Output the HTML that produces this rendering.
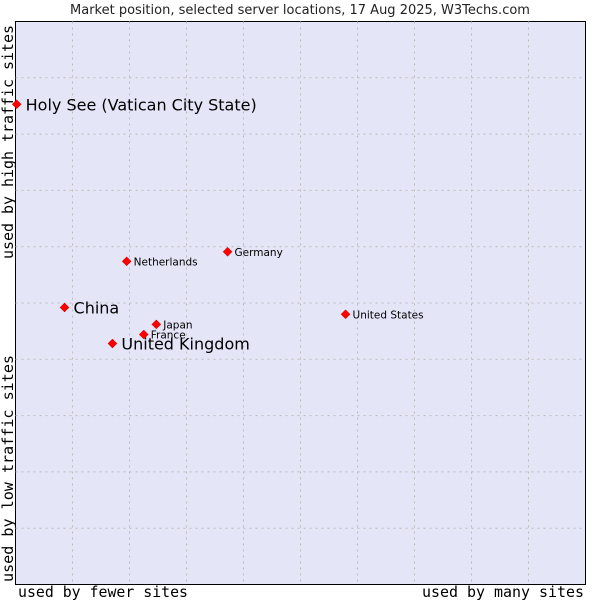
<!DOCTYPE html>
<html><head><meta charset="utf-8"><style>
body{margin:0;background:#fff;width:600px;height:600px;overflow:hidden}
svg{display:block}
</style></head><body>
<svg id="c" width="600" height="600" xmlns="http://www.w3.org/2000/svg">
<text x="300" y="14" text-anchor="middle" font-family="DejaVu Sans, sans-serif" font-size="13" fill="#222">Market position, selected server locations, 17 Aug 2025, W3Techs.com</text>
<rect x="15.5" y="21.5" width="570" height="563" fill="#e4e6f8" stroke="#000" stroke-width="1"/>
<g id="grid"></g>
<text x="18" y="597" font-family="DejaVu Sans Mono, monospace" font-size="15" textLength="170" lengthAdjust="spacingAndGlyphs" fill="#000">used by fewer sites</text>
<text x="422" y="597" font-family="DejaVu Sans Mono, monospace" font-size="15" textLength="162" lengthAdjust="spacingAndGlyphs" fill="#000">used by many sites</text>
<text transform="translate(13,582) rotate(-90)" font-family="DejaVu Sans Mono, monospace" font-size="15" textLength="227" lengthAdjust="spacingAndGlyphs" fill="#000">used by low traffic sites</text>
<text transform="translate(13,259) rotate(-90)" font-family="DejaVu Sans Mono, monospace" font-size="15" textLength="234" lengthAdjust="spacingAndGlyphs" fill="#000">used by high traffic sites</text>
<g id="pts"></g>
</svg>
<script>
const names=["Holy See (Vatican City State)","China","United Kingdom","France","Japan","Netherlands","Germany","United States"];
const xs=[0.2,8.6,17.0,22.5,24.7,19.5,37.2,57.9];
const ys=[85.3,49.2,42.8,44.4,46.2,57.4,59.1,48.0];
const big=[1,1,1,0,0,0,0,0];
const L=15.5,T=21.5,W=570,H=563;
const sx=v=>L+v/100*W, sy=v=>T+H-v/100*H;
const NS="http://www.w3.org/2000/svg";
const g=document.getElementById('grid');
for(let i=1;i<10;i++){
 const a=document.createElementNS(NS,'line');
 
 
 a.setAttribute('x1',L+i*W/10);a.setAttribute('x2',L+i*W/10);a.setAttribute('y1',T);a.setAttribute('y2',T+H);
 a.setAttribute('stroke','#bbb');a.setAttribute('stroke-dasharray','2,4');g.appendChild(a);
 const b=document.createElementNS(NS,'line');
 
 
 b.setAttribute('y1',T+i*H/10);b.setAttribute('y2',T+i*H/10);b.setAttribute('x1',L);b.setAttribute('x2',L+W);
 b.setAttribute('stroke','#bbb');b.setAttribute('stroke-dasharray','2,4');g.appendChild(b);
}
const p=document.getElementById('pts');
names.forEach((n,i)=>{
 const x=sx(xs[i]),y=sy(ys[i]);
 const m=document.createElementNS(NS,'path');
 
 
 m.setAttribute('d',`M${x} ${y-4.5}L${x+4.5} ${y}L${x} ${y+4.5}L${x-4.5} ${y}Z`);
 m.setAttribute('fill','#f00');m.setAttribute('stroke','#c00');m.setAttribute('stroke-width','0.5');p.appendChild(m);
 const t=document.createElementNS(NS,'text');
 
 
 t.setAttribute('x',x+(big[i]?9:7));t.setAttribute('y',y+(big[i]?6:4));
 t.setAttribute('font-family','DejaVu Sans, sans-serif');t.setAttribute('font-size',big[i]?16:10.5);
 t.setAttribute('fill','#000');t.textContent=n;p.appendChild(t);
});
</script>
</body></html>
